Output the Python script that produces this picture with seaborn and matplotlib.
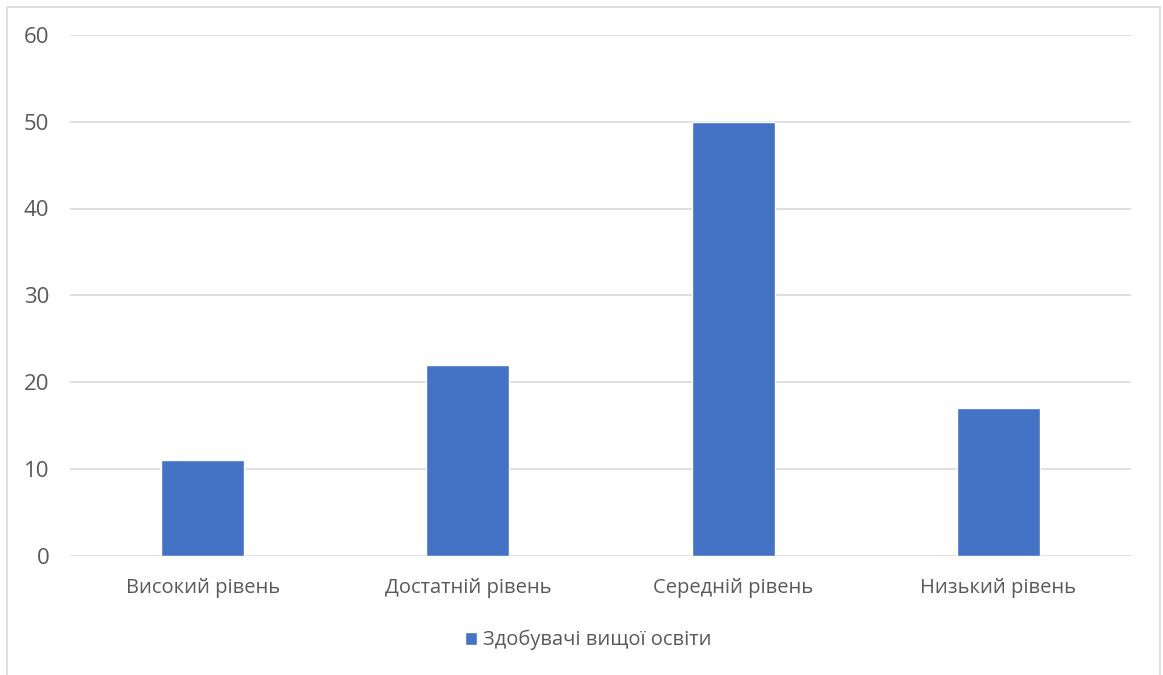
import matplotlib
matplotlib.use("Agg")
import matplotlib.pyplot as plt
import seaborn as sns
import pandas as pd
from matplotlib.patches import Rectangle

categories = ["Високий рівень", "Достатній рівень", "Середній рівень", "Низький рівень"]
values = [11, 22, 50, 17]
series_name = "Здобувачі вищої освіти"
y_ticks = [0, 10, 20, 30, 40, 50, 60]

df = pd.DataFrame({"category": categories, "value": values, "series": series_name})

sns.set_style("white")
plt.rcParams["font.family"] = ["Open Sans", "DejaVu Sans"]

text_color = "#595959"
grid_color = "#d9d9d9"
bar_color = "#4472c4"
font_size = 14.5

fig = plt.figure(figsize=(11.63, 6.75), dpi=100)
ax = fig.add_axes([70 / 1163, 1 - 555.5 / 675, (1131 - 70) / 1163, (555.5 - 35) / 675])

sns.barplot(data=df, x="category", y="value", hue="series", palette=[bar_color],
            width=0.313, ax=ax, legend=False, saturation=1)

ax.set_xlim(-0.5, 3.5)
ax.set_ylim(0, 60)
ax.set_yticks(y_ticks)
ax.set_yticklabels([str(t) for t in y_ticks])
ax.set_xlabel("")
ax.set_ylabel("")
ax.yaxis.grid(True, color=grid_color, linewidth=1.2)
ax.set_axisbelow(True)
for s in ax.spines.values():
    s.set_visible(False)
ax.tick_params(axis="both", length=0, colors=text_color)
ax.tick_params(axis="x", labelsize=font_size, pad=16)
ax.tick_params(axis="y", labelsize=16, pad=15)

# Legend entry below the plot area
handle = Rectangle((0, 0), 1, 1, facecolor=bar_color)
fig.legend([handle], [series_name], loc="center", bbox_to_anchor=(588 / 1163, 1 - 640 / 675),
           frameon=False, fontsize=font_size, labelcolor=text_color, handlelength=0.6,
           handleheight=0.6, handletextpad=0.3)

# Chart frame
fig.patches.append(Rectangle((7 / 1163, -0.05), (1160 - 7) / 1163, 1.05 - 7 / 675,
                             transform=fig.transFigure, fill=False,
                             edgecolor="#d9d9d9", linewidth=1.2))

fig.savefig("out.png", dpi=100, facecolor="white")
